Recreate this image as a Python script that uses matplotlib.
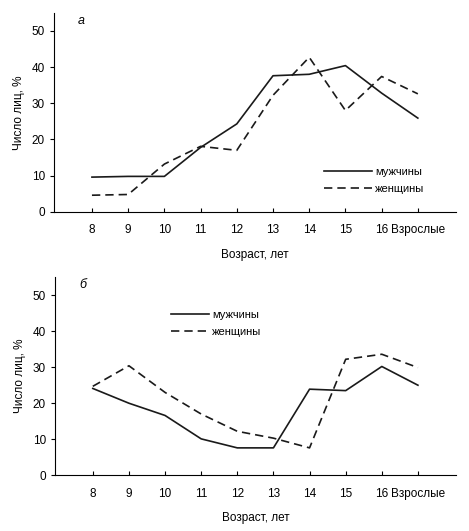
import matplotlib
matplotlib.use('Agg')
import matplotlib.pyplot as plt
import numpy as np

plt.rcParams['font.family'] = ['Liberation Sans Narrow', 'Liberation Sans', 'DejaVu Sans']

ages = ['8', '9', '10', '11', '12', '13', '14', '15', '16', 'Взрослые']

# panel a
men_a = [9.6, 9.8, 9.8, 17.8, 24.3, 37.6, 38.0, 40.4, 32.8, 25.9]
women_a = [4.6, 4.8, 13.2, 18.1, 17.0, 32.2, 42.7, 28.0, 37.4, 32.6]

# panel б
men_b = [24.1, 20.0, 16.6, 10.1, 7.6, 7.6, 23.9, 23.5, 30.2, 25.0]
women_b = [24.7, 30.4, 23.0, 17.0, 12.2, 10.3, 7.6, 32.2, 33.6, 29.9]

fig = plt.figure(figsize=(4.69, 5.31), dpi=100)
ax1 = fig.add_axes([0.115, 0.601, 0.857, 0.375])
ax2 = fig.add_axes([0.117, 0.105, 0.855, 0.373])

# axes, men, women, tag, legend anchor, handle length
panels = [(ax1, men_a, women_a, 'а', (0.647, 0.275), 4.3),
          (ax2, men_b, women_b, 'б', (0.265, 0.885), 3.4)]

x = np.arange(len(ages))
for ax, men, women, tag, legpos, hl in panels:
    ax.plot(x, men, color='#1a1a1a', lw=1.2, label='мужчины')
    ax.plot(x, women, color='#1a1a1a', lw=1.2, ls=(0, (5, 3)), label='женщины')
    ax.set_xlim(-1.05, 10.05)
    ax.set_ylim(0, 55)
    ax.set_yticks([0, 10, 20, 30, 40, 50])
    ax.set_xticks(x)
    ax.set_xticklabels(ages)
    ax.tick_params(axis='x', direction='in', length=3, labelsize=8.5, pad=9)
    ax.tick_params(axis='y', direction='out', length=3, labelsize=8.5)
    for s in ['top', 'right']:
        ax.spines[s].set_visible(False)
    ax.set_xlabel('Возраст, лет', fontsize=8.5, labelpad=9)
    ax.set_ylabel('Число лиц, %', fontsize=8.5, labelpad=5)
    ax.text(0.06, 0.96, tag, transform=ax.transAxes, fontsize=9, style='italic',
            va='center', ha='left')
    ax.legend(loc='upper left', bbox_to_anchor=legpos, frameon=False, fontsize=8,
              handlelength=hl, handletextpad=0.3, labelspacing=0.6)

fig.savefig('out.png', dpi=100)
